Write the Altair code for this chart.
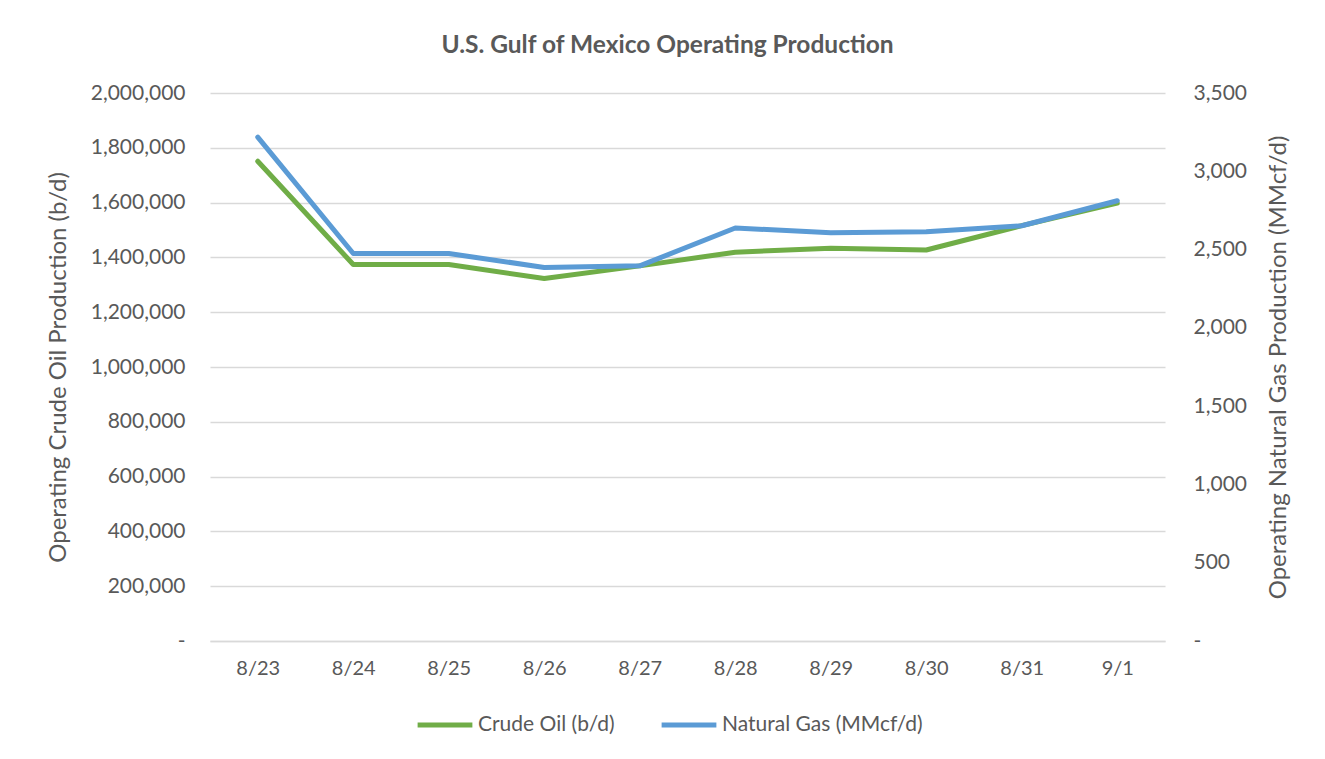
import altair as alt
import pandas as pd

dates = ["8/23", "8/24", "8/25", "8/26", "8/27", "8/28", "8/29", "8/30", "8/31", "9/1"]
crude_oil = [1751000, 1374000, 1374000, 1323000, 1369000, 1419000, 1433000, 1427000, 1516000, 1598000]
natural_gas = [3218, 2475, 2475, 2386, 2396, 2638, 2607, 2614, 2652, 2812]

oil_ticks = [0, 200000, 400000, 600000, 800000, 1000000, 1200000, 1400000, 1600000, 1800000, 2000000]
gas_ticks = [0, 500, 1000, 1500, 2000, 2500, 3000, 3500]

series_names = ["Crude Oil (b/d)", "Natural Gas (MMcf/d)"]
series_colors = ["#70AD47", "#5B9BD5"]

df = pd.DataFrame({"date": dates, "oil": crude_oil, "gas": natural_gas})

FONT = "Lato"
TXT = "#595959"
GRID = "#D9D9D9"

x_enc = alt.X(
    "date:O",
    sort=dates,
    title=None,
    axis=alt.Axis(
        labelAngle=0, labelFontSize=20, labelColor=TXT, labelPadding=17,
        ticks=False, domainColor=GRID, domainWidth=1.5, grid=False,
    ),
)

color_scale = alt.Scale(domain=series_names, range=series_colors)

oil_line = alt.Chart(df).transform_calculate(
    series="'" + series_names[0] + "'"
).mark_line(strokeWidth=5, strokeCap="round", strokeJoin="round").encode(
    x=x_enc,
    y=alt.Y(
        "oil:Q",
        scale=alt.Scale(domain=[0, 2000000]),
        axis=alt.Axis(
            orient="left", values=oil_ticks,
            labelExpr="datum.value == 0 ? '-' : format(datum.value, ',')",
            title="Operating Crude Oil Production (b/d)",
            titleFontSize=24, titleFontWeight="normal", titleColor=TXT, titlePadding=20,
            labelFontSize=21, labelColor=TXT, labelPadding=25,
            ticks=False, domain=False, grid=True, gridColor=GRID, gridWidth=1.5,
        ),
    ),
    color=alt.Color("series:N", scale=color_scale, legend=alt.Legend(
        title=None, orient="none", direction="horizontal", legendX=205, legendY=602,
        symbolType="stroke", symbolStrokeWidth=5, symbolSize=3000,
        labelFontSize=21, labelColor=TXT, labelLimit=400, columnPadding=36, labelOffset=3,
    )),
)

gas_line = alt.Chart(df).transform_calculate(
    series="'" + series_names[1] + "'"
).mark_line(strokeWidth=5, strokeCap="round", strokeJoin="round").encode(
    x=x_enc,
    y=alt.Y(
        "gas:Q",
        scale=alt.Scale(domain=[0, 3500]),
        axis=alt.Axis(
            orient="right", values=gas_ticks,
            labelExpr="datum.value == 0 ? '-' : format(datum.value, ',')",
            title="Operating Natural Gas Production (MMcf/d)",
            titleFontSize=24, titleFontWeight="normal", titleColor=TXT, titlePadding=20,
            titleAngle=270, titleBaseline="top",
            labelFontSize=21, labelColor=TXT, labelPadding=28,
            ticks=False, domain=False, grid=False,
        ),
    ),
    color=alt.Color("series:N", scale=color_scale),
)

chart = alt.layer(oil_line, gas_line).resolve_scale(y="independent").properties(
    width=955,
    height=548,
    padding={"left": 202, "top": 85, "right": 150, "bottom": 108},
    autosize=alt.AutoSizeParams(type="none"),
    title=alt.TitleParams(
        "U.S. Gulf of Mexico Operating Production",
        fontSize=24.5, fontWeight="bold", color=TXT, font=FONT,
        anchor="middle", dx=-20, offset=24,
    ),
).configure(font=FONT).configure_view(stroke=None)

chart.save("out.html", embed_options={"renderer": "svg", "actions": False})
